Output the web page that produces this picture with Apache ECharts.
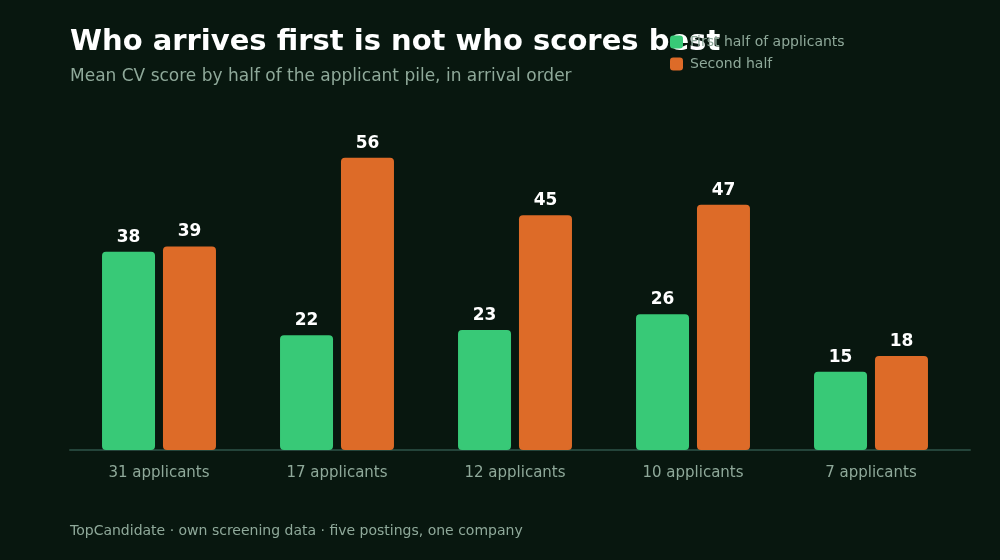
<!DOCTYPE html>
<html>
<head>
<meta charset="utf-8">
<script src="https://cdn.jsdelivr.net/npm/echarts@6/dist/echarts.min.js"></script>
<style>
  html, body { margin: 0; padding: 0; background: #08170f; }
  #chart { width: 1000px; height: 560px; }
</style>
</head>
<body>
<div id="chart"></div>
<script>
// Postings, by size of applicant pile
const categories = ['31 applicants', '17 applicants', '12 applicants', '10 applicants', '7 applicants'];
// Mean CV score, first vs second half of the pile
const firstHalf = [38, 22, 23, 26, 15];
const secondHalf = [39, 56, 45, 47, 18];

const font = 'DejaVu Sans';
const muted = '#8fa99a';

let labelStyle = {
    show: true,
    position: 'top',
    color: '#ffffff',
    fontSize: 17,
    fontWeight: 'bold',
    distance: 6,
    fontFamily: font
};

let option = {
    backgroundColor: '#08170f',
    textStyle: { fontFamily: font },
    title: [
        {
            text: 'Who arrives first is not who scores best',
            subtext: 'Mean CV score by half of the applicant pile, in arrival order',
            left: 70,
            top: 28,
            padding: 0,
            itemGap: 11,
            textStyle: { color: '#ffffff', fontSize: 29, fontWeight: 'bold', fontFamily: font },
            subtextStyle: { color: muted, fontSize: 17, fontFamily: font }
        },
        {
            text: 'TopCandidate · own screening data · five postings, one company',
            left: 70,
            top: 524,
            padding: 0,
            textStyle: { color: muted, fontSize: 14, fontWeight: 'normal', fontFamily: font }
        }
    ],
    legend: {
        orient: 'vertical',
        left: 670,
        top: 35,
        padding: 0,
        z: 8,
        itemWidth: 13,
        itemHeight: 13,
        itemGap: 8,
        icon: 'roundRect',
        textStyle: { color: muted, fontSize: 14, fontFamily: font, padding: [0, 0, 0, 2] },
        data: ['First half of applicants', 'Second half']
    },
    grid: [
        { left: 70, right: 40, top: 137, bottom: 110 },
        // full-width grid only used for the baseline
        { left: 70, right: 30, top: 137, bottom: 110 }
    ],
    xAxis: [
        {
            type: 'category',
            data: categories,
            gridIndex: 0,
            axisLine: { show: false },
            axisTick: { show: false },
            axisLabel: { color: muted, fontSize: 15, margin: 16, fontFamily: font }
        },
        {
            type: 'category',
            data: categories,
            gridIndex: 1,
            axisLine: { lineStyle: { color: '#24443a', width: 2 } },
            axisTick: { show: false },
            axisLabel: { show: false }
        }
    ],
    yAxis: [
        { type: 'value', min: 0, max: 60, show: false, gridIndex: 0 },
        { type: 'value', min: 0, max: 60, show: false, gridIndex: 1 }
    ],
    series: [
        {
            name: 'First half of applicants',
            type: 'bar',
            data: firstHalf,
            barWidth: 53,
            barGap: '15%',
            z: 3,
            itemStyle: { color: '#38c977', borderRadius: 4 },
            label: labelStyle
        },
        {
            name: 'Second half',
            type: 'bar',
            data: secondHalf,
            barWidth: 53,
            barGap: '15%',
            z: 3,
            itemStyle: { color: '#dd6b28', borderRadius: 4 },
            label: labelStyle
        }
    ]
};

let chart = echarts.init(document.getElementById('chart'));
chart.setOption(option);
</script>
</body>
</html>
